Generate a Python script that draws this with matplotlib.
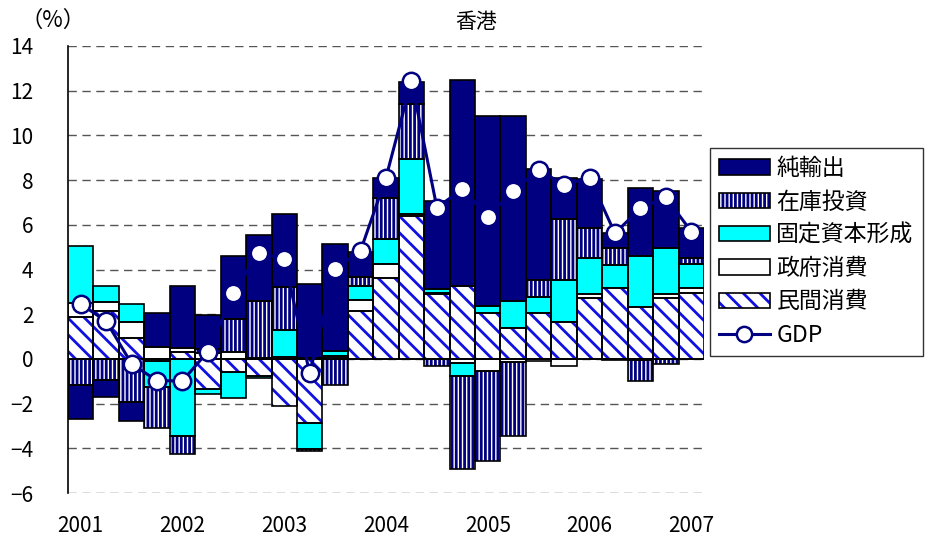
import matplotlib.pyplot as plt
import numpy as np
from matplotlib.patches import Patch
from matplotlib.lines import Line2D

plt.rcParams['font.family'] = ['Noto Sans CJK JP', 'DejaVu Sans']
plt.rcParams['hatch.linewidth'] = 2.0

# 2001Q1 - 2007Q1
years = ['2001', '2002', '2003', '2004', '2005', '2006', '2007']

priv = [1.89, 2.15, 0.95, -0.10, 0.33, -1.36, -0.60, -0.75, -2.10, -2.85, 0.05, 2.15, 3.64,
        6.40, 2.91, 3.27, 2.07, 1.40, 2.04, 1.64, 2.72, 3.16, 2.31, 2.72, 2.97]
gov = [0.60, 0.41, 0.69, 0.55, 0.15, 0.25, 0.33, 0.05, 0.08, 0.04, 0.10, 0.49, 0.60,
       0.07, 0.02, -0.19, -0.52, -0.15, -0.10, -0.34, 0.17, -0.05, -0.03, 0.17, 0.19]
fcf = [2.57, 0.72, 0.82, -1.15, -3.43, -0.21, -1.16, -0.10, 1.22, -1.19, 0.22, 0.64, 1.13,
       2.48, 0.21, -0.57, 0.30, 1.21, 0.75, 1.89, 1.61, 1.05, 2.31, 2.06, 1.10]
inv = [-1.19, -0.94, -1.94, -1.86, -0.84, 0.18, 1.46, 2.56, 1.91, -0.08, -1.19, 0.40, 1.85,
       2.45, -0.34, -4.18, -4.07, -3.29, 0.74, 2.73, 1.37, 0.74, -0.94, -0.25, 0.25]
nx = [-1.51, -0.75, -0.83, 1.52, 2.80, 1.54, 2.83, 2.94, 3.26, 3.33, 4.78, 1.12, 0.86,
      1.01, 3.92, 9.21, 8.50, 8.26, 4.96, 1.82, 2.18, 0.70, 3.02, 2.54, 1.34]
gdp = [2.45, 1.69, -0.22, -0.98, -0.98, 0.33, 2.94, 4.76, 4.46, -0.64, 4.01, 4.84, 8.11,
       12.44, 6.77, 7.59, 6.37, 7.52, 8.46, 7.79, 8.11, 5.62, 6.74, 7.23, 5.70]

labels = ['民間消費', '政府消費', '固定資本形成', '在庫投資', '純輸出']
# facecolor, hatch, hatch colour
styles = [('white', '\\\\', '#1010E0'),
          ('white', None, 'black'),
          ('#00FFFF', None, 'black'),
          ('white', '||||', '#000080'),
          ('#000080', None, 'black')]

fig = plt.figure(figsize=(9.36, 5.4), dpi=100)
ax = fig.add_axes([68 / 936, 1 - 493 / 540, 636 / 936, 447 / 540])

x = np.arange(len(gdp))
pos = np.zeros(len(x))
neg = np.zeros(len(x))
handles = []
for vals, (fc, hatch, hc), lab in zip([priv, gov, fcf, inv, nx], styles, labels):
    v = np.array(vals)
    bottom = np.where(v >= 0, pos, neg)
    ax.bar(x, v, bottom=bottom, width=1.0, color=fc, hatch=hatch, edgecolor=hc,
           linewidth=0, zorder=2)
    ax.bar(x, v, bottom=bottom, width=1.0, fill=False, edgecolor='black',
           linewidth=1.2, zorder=3)
    pos = pos + np.where(v >= 0, v, 0)
    neg = neg + np.where(v < 0, v, 0)
    handles.append((Patch(facecolor=fc, hatch=hatch, edgecolor=hc, linewidth=0),
                    Patch(fill=False, edgecolor='black', linewidth=1.2)))

ax.axhline(0, color='black', linewidth=1.2, zorder=4)
ax.plot(x, gdp, color='#000080', linewidth=2.2, marker='o', markersize=12.5,
        markerfacecolor='white', markeredgecolor='#000080', markeredgewidth=1.8, zorder=5)

ax.set_xlim(-0.5, len(x) - 0.5)
ax.set_ylim(-6, 14)
ax.set_yticks(np.arange(-6, 15, 2))
ax.set_xticks(np.arange(0, len(x), 4))
ax.set_xticklabels(years)
ax.tick_params(axis='x', length=0, pad=16, labelsize=15)
ax.tick_params(axis='y', length=0, pad=25, labelsize=15)
ax.yaxis.grid(True, color='#555555', linestyle=(0, (6, 4)), linewidth=1.0)
ax.set_axisbelow(True)
for s in ['top', 'right', 'bottom']:
    ax.spines[s].set_visible(False)
ax.spines['left'].set_linewidth(1.2)

fig.text(20 / 936, 1 - 20 / 540, '（%）', fontsize=16, va='center', ha='left')
fig.text(476 / 936, 1 - 22 / 540, '香港', fontsize=15, va='center', ha='center')

gdp_handle = Line2D([], [], color='#000080', linewidth=2.2, marker='o', markersize=11,
                    markerfacecolor='white', markeredgecolor='#000080', markeredgewidth=1.8)
leg = fig.legend(handles[::-1] + [gdp_handle], labels[::-1] + ['GDP'],
                 loc='upper left', bbox_to_anchor=(710 / 936, 1 - 148 / 540),
                 bbox_transform=fig.transFigure, borderaxespad=0, fontsize=16.5,
                 frameon=True, fancybox=False, handlelength=2.2, handleheight=0.65,
                 handletextpad=0.3, labelspacing=0.45, borderpad=0.4, numpoints=1)
leg.get_frame().set_edgecolor('black')
leg.get_frame().set_linewidth(1.0)

fig.savefig('out.png', dpi=100)
